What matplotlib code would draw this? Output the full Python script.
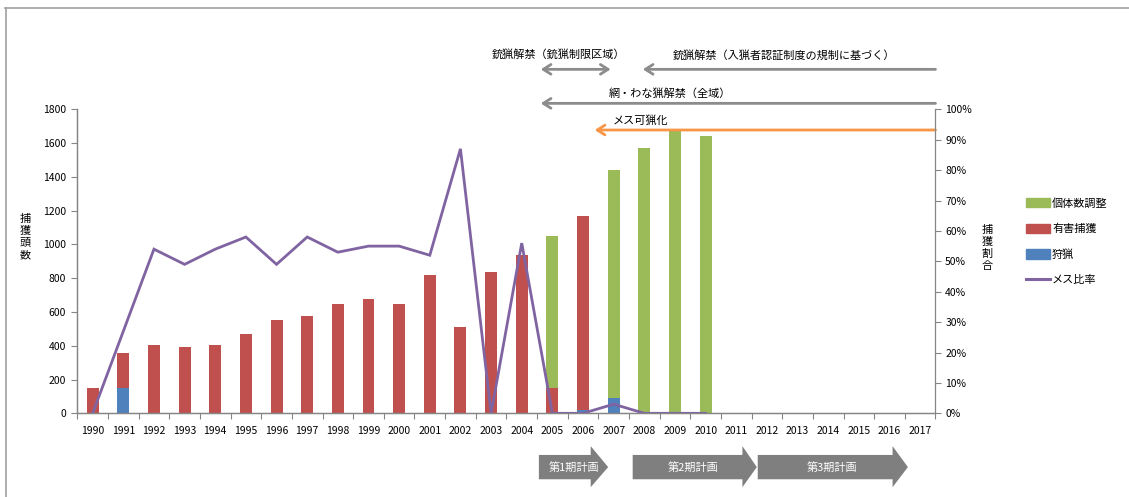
import matplotlib
matplotlib.use("Agg")
import matplotlib.pyplot as plt
from matplotlib.lines import Line2D
from matplotlib.patches import Polygon, Patch
import numpy as np

plt.rcParams['font.family'] = ['Noto Sans CJK JP', 'DejaVu Sans']

years = list(range(1990, 2018))
# 捕獲頭数（頭）
shuryo = [0, 150, 0, 0, 0, 0, 0, 0, 0, 0, 0, 0, 0, 0, 0,
          0, 20, 90, 0, 0, 0, 0, 0, 0, 0, 0, 0, 0]
yugai = [150, 210, 405, 395, 405, 470, 550, 575, 650, 675, 650, 820, 510, 835, 940,
         150, 1150, 0, 0, 5, 0, 0, 0, 0, 0, 0, 0, 0]
kotaisu = [0, 0, 0, 0, 0, 0, 0, 0, 0, 0, 0, 0, 0, 0, 0,
           900, 0, 1350, 1570, 1670, 1645, 0, 0, 0, 0, 0, 0, 0]
# メス比率（%）
mesu = [0, 27, 54, 49, 54, 58, 49, 58, 53, 55, 55, 52, 87, 0, 56,
        0, 0, 3, 0, 0, 0] + [np.nan] * 7

green = '#9BBB59'
red = '#C0504D'
blue = '#4F81BD'
purple = '#8064A2'
orange = '#F79646'
gray = '#7F7F7F'
axcol = '#868686'

fig = plt.figure(figsize=(11.29, 4.97), dpi=100)
ax = fig.add_axes([0.0685, 0.1684, 0.7601, 0.6116])
ax2 = ax.twinx()

x = np.arange(len(years))
w = 0.39
b1 = np.array(shuryo)
b2 = b1 + np.array(yugai)
ax.bar(x, shuryo, w, color=blue, linewidth=0)
ax.bar(x, yugai, w, bottom=b1, color=red, linewidth=0)
ax.bar(x, kotaisu, w, bottom=b2, color=green, linewidth=0)

ax2.plot(x, np.array(mesu) / 100, color=purple, lw=2.0, solid_joinstyle='miter')

ax.set_xlim(-0.5, len(years) - 0.5)
ax.set_ylim(0, 1800)
ax.set_yticks(range(0, 1801, 200))
ax2.set_ylim(0, 1)
ax2.set_yticks(np.arange(0, 1.01, 0.1))
ax2.set_yticklabels(['%d%%' % v for v in range(0, 101, 10)])

ax.set_xticks(x)
ax.set_xticklabels([str(y) for y in years])
ax.set_xticks(np.arange(-0.5, len(years)), minor=True)
ax.tick_params(axis='x', which='major', length=0, pad=9, labelsize=7.5)
ax.tick_params(axis='x', which='minor', length=4, color=axcol, width=0.8)
ax.tick_params(axis='y', length=4, color=axcol, width=0.8, labelsize=7.5, pad=4)
ax2.tick_params(axis='y', length=4, color=axcol, width=0.8, labelsize=7.5, pad=3)

for a in (ax, ax2):
    a.spines['top'].set_visible(False)
    for s in ('left', 'right', 'bottom'):
        a.spines[s].set_color(axcol)
        a.spines[s].set_linewidth(0.9)
ax.spines['right'].set_visible(False)

fig.text(25 / 1129, 1 - 237 / 497, '捕\n獲\n頭\n数', fontsize=8, ha='center', va='center',
         linespacing=1.25)
fig.text(987 / 1129, 1 - 248 / 497, '捕\n獲\n割\n合', fontsize=8, ha='center', va='center',
         linespacing=1.25)

# 規制緩和の矢印
tr = ax.get_xaxis_transform()
def harrow(x0, x1, y, color, style='->'):
    ax.annotate('', xy=(x0, y), xytext=(x1, y), xycoords=tr, textcoords=tr,
                annotation_clip=False,
                arrowprops=dict(arrowstyle=style + ',head_length=0.55,head_width=0.35',
                                color=color, lw=2, shrinkA=0, shrinkB=0))

harrow(14.62, 16.9, 1.1316, '#8C8C8C', '<->')
harrow(17.95, 27.5, 1.1316, '#8C8C8C')
harrow(14.62, 27.5, 1.0197, '#8C8C8C')
harrow(16.38, 27.5, 0.932, orange)
ax.text(15.2, 1.179, '銃猟解禁（銃猟制限区域）', transform=tr, fontsize=8,
        ha='center', va='center')
ax.text(22.55, 1.179, '銃猟解禁（入猟者認証制度の規制に基づく）', transform=tr, fontsize=8,
        ha='center', va='center')
ax.text(18.82, 1.0526, '網・わな猟解禁（全域）', transform=tr, fontsize=8,
        ha='center', va='center')
ax.text(17.89, 0.965, 'メス可猟化', transform=tr, fontsize=8,
        ha='center', va='center')

# 計画期間
def block(x0, xb, xt, label, xl):
    yt, yb, ht, hb, yc = -0.137, -0.217, -0.108, -0.243, -0.177
    pts = [(x0, yt), (xb, yt), (xb, ht), (xt, yc), (xb, hb), (xb, yb), (x0, yb)]
    ax.add_patch(Polygon(pts, closed=True, transform=tr, facecolor=gray,
                         edgecolor='none', clip_on=False))
    ax.text(xl, yc, label, transform=tr, color='white', fontsize=8,
            ha='center', va='center')

block(14.56, 16.25, 16.82, '第1期計画', 15.69)
block(17.62, 21.2, 21.67, '第2期計画', 19.6)
block(21.7, 26.1, 26.6, '第3期計画', 24.13)

handles = [Patch(color=green), Patch(color=red), Patch(color=blue),
           Line2D([], [], color=purple, lw=2.2)]
labels = ['個体数調整', '有害捕獲', '狩猟', 'メス比率']
fig.legend(handles, labels, loc='upper left', bbox_to_anchor=(1026 / 1129, 1 - 198 / 497),
           frameon=False, fontsize=8, handlelength=2.2, handleheight=0.9,
           handletextpad=0.15, labelspacing=1.35, borderpad=0, borderaxespad=0)

# 外枠
fig.add_artist(Line2D([5 / 1129, 1], [1 - 8 / 497] * 2, color='#A0A0A0', lw=1.2,
                      transform=fig.transFigure))
fig.add_artist(Line2D([6 / 1129] * 2, [0, 1 - 8 / 497], color='#A0A0A0', lw=1.2,
                      transform=fig.transFigure))

fig.savefig('out.png', dpi=100)
